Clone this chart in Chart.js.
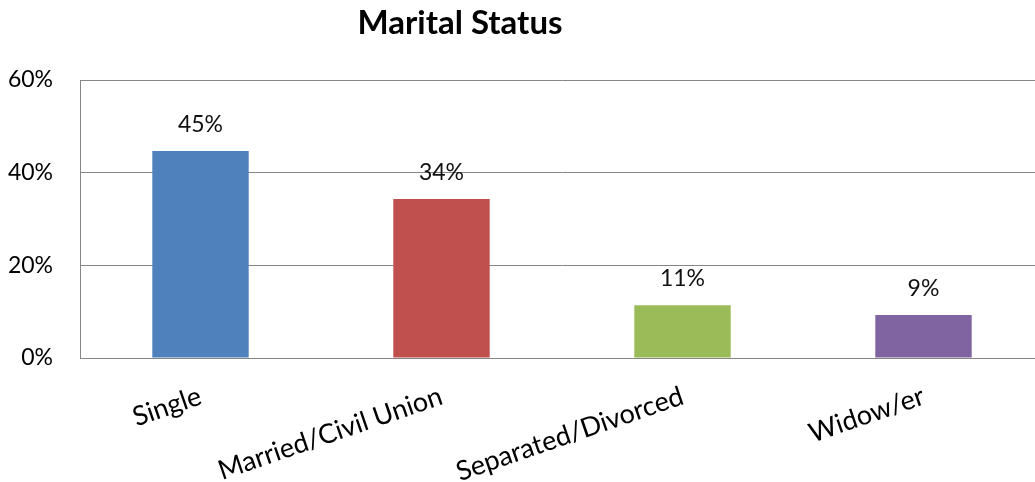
<!DOCTYPE html>
<html>
<head>
<meta charset="utf-8">
<script src="https://cdn.jsdelivr.net/npm/chart.js@4/dist/chart.umd.min.js"></script>
<style>
  html, body { margin: 0; padding: 0; background: #fff; overflow: hidden; }
  canvas { display: block; }
</style>
</head>
<body>
<canvas id="maritalChart" width="1050" height="482"></canvas>
<script>
const categories = ["Single", "Married/Civil Union", "Separated/Divorced", "Widow/er"];
const shares = [44.7, 34.3, 11.4, 9.3];
const barColors = ["#4F81BD", "#C0504D", "#9BBB59", "#8064A2"];
const yTicks = [0, 20, 40, 60];

const FONT = "Lato, 'Open Sans', sans-serif";
const GRID = "#868686";

// value labels above each bar
const barLabels = {
  id: "barLabels",
  afterDatasetsDraw(chart) {
    const ctx = chart.ctx;
    const meta = chart.getDatasetMeta(0);
    ctx.save();
    ctx.font = "23px " + FONT;
    ctx.fillStyle = "#111";
    ctx.textAlign = "center";
    ctx.textBaseline = "alphabetic";
    meta.data.forEach((bar, i) => {
      ctx.fillText(Math.round(shares[i]) + "%", bar.x, bar.y - 19);
    });
    ctx.restore();
  }
};

// the title sits left of the canvas centre in the original
const shiftTitle = {
  id: "shiftTitle",
  afterLayout(chart) {
    chart.titleBlock.left = 0;
    chart.titleBlock.right = 920;
  }
};

new Chart(document.getElementById("maritalChart"), {
  type: "bar",
  data: {
    labels: categories,
    datasets: [{
      data: shares,
      backgroundColor: barColors,
      categoryPercentage: 1,
      barPercentage: 0.4
    }]
  },
  options: {
    responsive: false,
    animation: false,
    layout: { padding: { left: 0, right: 6, top: 0, bottom: 0 } },
    plugins: {
      legend: { display: false },
      tooltip: { enabled: false },
      title: {
        display: true,
        text: "Marital Status",
        color: "#000",
        font: { family: FONT, size: 33, weight: "bold" },
        padding: { top: 4, bottom: 36.4 }
      }
    },
    scales: {
      x: {
        grid: { display: false, drawTicks: false },
        border: { color: GRID, width: 1 },
        ticks: {
          color: "#000",
          font: { family: FONT, size: 27 },
          minRotation: 19,
          maxRotation: 19,
          padding: 22
        },
        afterFit(scale) { scale.height = 124; }
      },
      y: {
        min: 0,
        max: 60,
        grid: { color: GRID, drawTicks: false },
        border: { color: GRID, width: 1 },
        afterBuildTicks(scale) { scale.ticks = yTicks.map(v => ({ value: v })); },
        ticks: {
          color: "#000",
          font: { family: FONT, size: 23 },
          padding: 27,
          callback: v => v + "%"
        },
        afterFit(scale) { scale.width = 80; }
      }
    }
  },
  plugins: [barLabels, shiftTitle]
});
</script>
</body>
</html>
